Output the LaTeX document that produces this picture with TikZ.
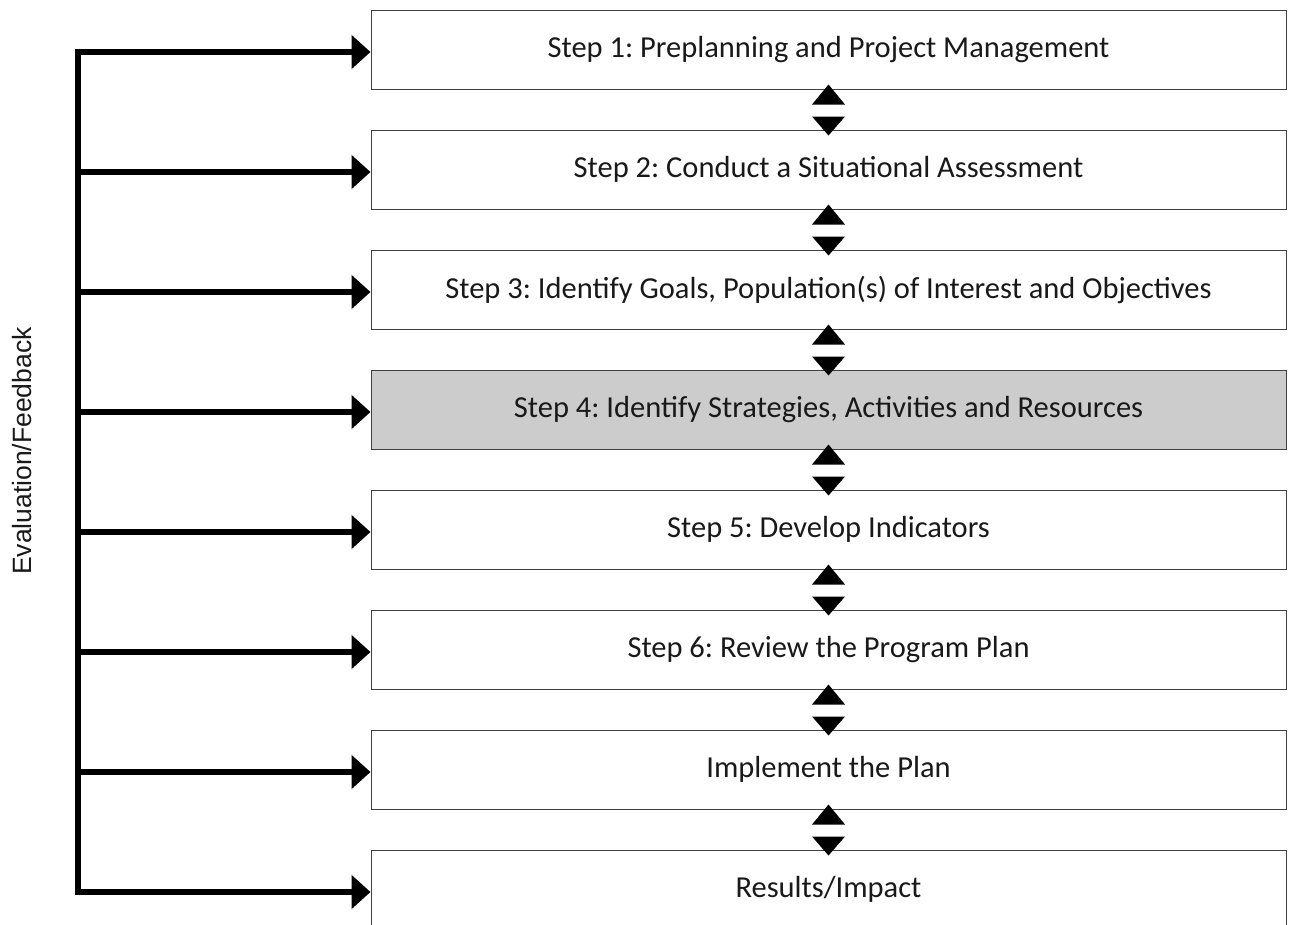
\documentclass[tikz,border=0pt]{standalone}
\usepackage{fontspec}
\setmainfont{Carlito}
\newfontfamily\labelfont{Liberation Sans}
\usetikzlibrary{arrows.meta,calc}
\frenchspacing
\tikzset{
  stepbox/.style={draw=black!75, line width=1pt, fill=white, minimum width=915pt, minimum height=79pt, inner sep=0pt, font=\frenchspacing\fontsize{30.5}{35}\selectfont, text=black!90},
  fb/.style={line width=6.5pt, -{Triangle[length=19pt,width=33pt]}},
  trunk/.style={line width=6.5pt, line cap=rect},
  tri/.style={fill=black}
}
\begin{document}
\begin{tikzpicture}[x=1pt,y=-1pt]
\clip (0,0) rectangle (1290,924);
\fill[white] (0,0) rectangle (1290,924);
\foreach \i/\t in {1/{Step 1: Preplanning and Project Management},
                   2/{Step 2: Conduct a Situational Assessment},
                   3/{Step 3: Identify Goals, Population(s) of Interest and Objectives},
                   5/{Step 5: Develop Indicators},
                   6/{Step 6: Review the Program Plan},
                   7/{Implement the Plan},
                   8/{Results/Impact}}{
  \node[stepbox] (b\i) at (828.5,{49.5+120*(\i-1)}) {\t};
}
\node[stepbox, fill=black!20] (b4) at (828.5,{49.5+360}) {Step 4: Identify Strategies, Activities and Resources};
% feedback trunk and arrows
\foreach \i in {1,...,8}{
  \coordinate (t\i) at (78,{52+120*(\i-1)});
}
\draw[trunk] (t1) -- (t8);
\foreach \i in {1,...,8}{
  \draw[fb] (t\i) -- (t\i -| b\i.west);
}
% double arrows between boxes
\foreach \i/\j in {1/2,2/3,3/4,4/5,5/6,6/7,7/8}{
  \fill[tri] ($(b\i.south)+(0,-5)$) -- ++(-16.5,20) -- ++(33,0) -- cycle;
  \fill[tri] ($(b\j.north)+(0,6)$) -- ++(-16.5,-19) -- ++(33,0) -- cycle;
}
\node[rotate=90, font=\labelfont\fontsize{26.5}{30}\selectfont, text=black!90] (lbl) at (22,451) {Evaluation/Feedback};
\end{tikzpicture}
\end{document}
